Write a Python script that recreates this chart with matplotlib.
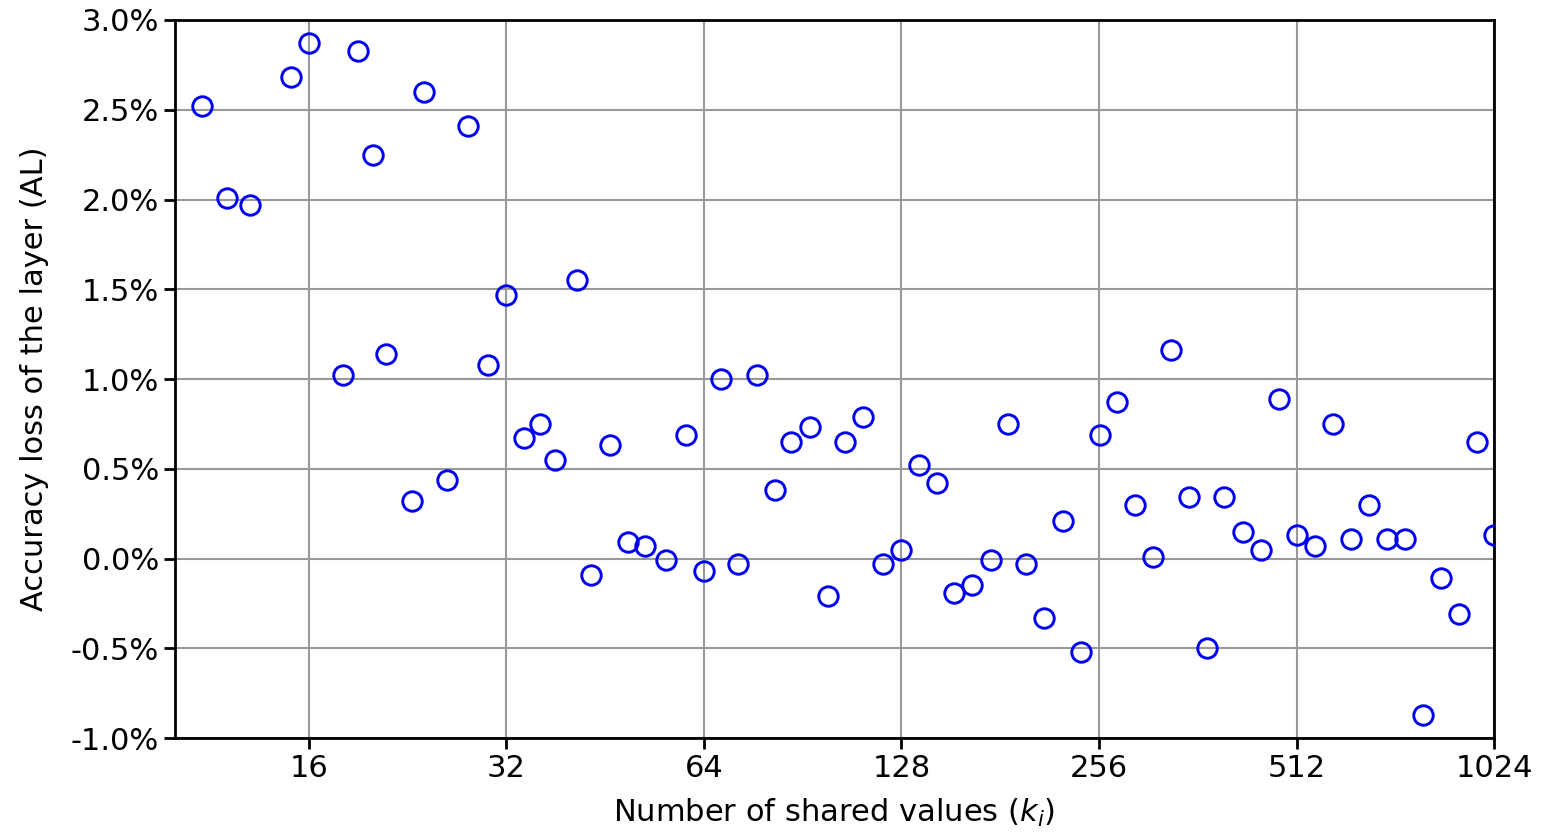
import matplotlib
matplotlib.use("Agg")
import matplotlib.pyplot as plt
from matplotlib.ticker import FixedLocator, FuncFormatter, NullLocator

# Number of shared values (k_i)
k_values = [11, 12, 13, 15, 16, 18, 19, 20, 21, 23, 24, 26, 28, 30, 32, 34, 36, 38,
            41, 43, 46, 49, 52, 56, 60, 64, 68, 72, 77, 82, 87, 93, 99, 105, 112,
            120, 128, 136, 145, 154, 164, 175, 186, 198, 211, 226, 240, 257, 273,
            290, 309, 330, 351, 374, 397, 424, 452, 482, 512, 546, 582, 620, 661,
            704, 749, 798, 850, 906, 965, 1024]
# Accuracy loss of the layer (%)
acc_loss = [2.52, 2.01, 1.97, 2.68, 2.87, 1.02, 2.83, 2.25, 1.14, 0.32, 2.60, 0.44,
            2.41, 1.08, 1.47, 0.67, 0.75, 0.55, 1.55, -0.09, 0.63, 0.09, 0.07,
            -0.01, 0.69, -0.07, 1.00, -0.03, 1.02, 0.38, 0.65, 0.73, -0.21, 0.65,
            0.79, -0.03, 0.05, 0.52, 0.42, -0.19, -0.15, -0.01, 0.75, -0.03, -0.33,
            0.21, -0.52, 0.69, 0.87, 0.30, 0.01, 1.16, 0.34, -0.50, 0.34, 0.15,
            0.05, 0.89, 0.13, 0.07, 0.75, 0.11, 0.30, 0.11, 0.11, -0.87, -0.11,
            -0.31, 0.65, 0.13]

x_ticks = [16, 32, 64, 128, 256, 512, 1024]
y_ticks = [-1.0, -0.5, 0.0, 0.5, 1.0, 1.5, 2.0, 2.5, 3.0]

fig = plt.figure(figsize=(15.6, 8.33), dpi=100)
ax = fig.add_axes([0.1122, 0.114, 0.8455, 0.862])

ax.plot(k_values, acc_loss, linestyle="none", marker="o", markersize=14,
        markerfacecolor="none", markeredgecolor="#0000f0", markeredgewidth=2.1,
        zorder=3)

ax.set_xscale("log", base=2)
ax.set_xlim(10, 1024)
ax.set_ylim(-1.0, 3.0)
ax.xaxis.set_major_locator(FixedLocator(x_ticks))
ax.xaxis.set_minor_locator(NullLocator())
ax.xaxis.set_major_formatter(FuncFormatter(lambda v, p: f"{int(round(v))}"))
ax.yaxis.set_major_locator(FixedLocator(y_ticks))
ax.yaxis.set_major_formatter(FuncFormatter(lambda v, p: f"{v:.1f}%"))

ax.grid(True, color="#999999", linewidth=1.5)
ax.set_axisbelow(True)
for s in ax.spines.values():
    s.set_linewidth(2.0)
    s.set_color("black")

ax.tick_params(axis="both", labelsize=22, width=2.0, length=8, colors="black")
ax.set_xlabel("Number of shared values ($k_i$)", fontsize=22, labelpad=10)
ax.set_ylabel("Accuracy loss of the layer (AL)", fontsize=22, labelpad=16)

fig.savefig("out.png", dpi=100)
